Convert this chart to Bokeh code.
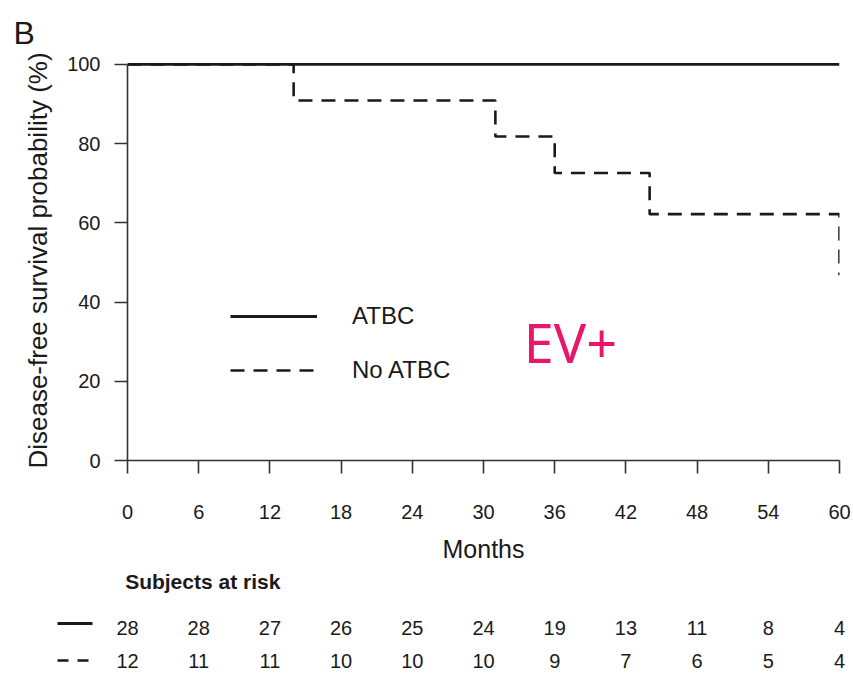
from bokeh.plotting import figure
from bokeh.models import Range1d, Legend, LegendItem, Label, FixedTicker
from bokeh.layouts import column
from bokeh.embed import file_html
from bokeh.resources import INLINE
from bokeh.core.properties import value

# ---- data ----
month_ticks = [0, 6, 12, 18, 24, 30, 36, 42, 48, 54, 60]
surv_ticks = [0, 20, 40, 60, 80, 100]
atbc_time = [0, 60]
atbc_surv = [100, 100]
noatbc_time = [0, 14, 31, 36, 44, 60]
noatbc_surv = [100, 90.9, 81.8, 72.6, 62.2, 46.8]
risk_atbc = [28, 28, 27, 26, 25, 24, 19, 13, 11, 8, 4]
risk_noatbc = [12, 11, 11, 10, 10, 10, 9, 7, 6, 5, 4]

SANS = "Liberation Sans"
INK = "#1a1a1a"

W = 853
LEFT, RIGHT = 127, 14
frame_w = W - LEFT - RIGHT
ppm = frame_w / 60.0

p = figure(width=W, height=570, x_range=Range1d(0, 60), y_range=Range1d(0, 101),
           output_backend="svg", toolbar_location=None,
           min_border_left=LEFT, min_border_right=RIGHT,
           min_border_top=60, min_border_bottom=110)
p.frame_align = False
p.outline_line_color = None
p.grid.visible = False
p.background_fill_color = "white"

p.title.text = "B"
p.title.align = "left"
p.title.offset = -114
p.title.standoff = 20
p.title.text_font = SANS
p.title.text_font_size = "32px"
p.title.text_font_style = "normal"
p.title.text_color = INK

dash = p.step(noatbc_time, noatbc_surv, mode="after", line_color=INK,
              line_width=2.6, line_dash="14 9")
solid = p.line(atbc_time, atbc_surv, line_color=INK, line_width=2.8)

for ax in (p.xaxis[0], p.yaxis[0]):
    ax.axis_line_color = "#333333"
    ax.axis_line_width = 1.6
    ax.major_tick_line_color = "#333333"
    ax.major_tick_line_width = 1.6
    ax.minor_tick_line_color = None
    ax.major_tick_in = 0
    ax.major_tick_out = 13
    ax.major_label_text_font = SANS
    ax.major_label_text_font_size = "20px"
    ax.major_label_text_color = INK
    ax.axis_label_text_font = SANS
    ax.axis_label_text_font_style = "normal"
    ax.axis_label_text_color = INK

p.xaxis.ticker = FixedTicker(ticks=month_ticks)
p.xaxis.bounds = (0, 60)
p.xaxis.major_label_standoff = 31
p.xaxis.axis_label = "Months"
p.xaxis.axis_label_text_font_size = "25px"
p.xaxis.axis_label_standoff = 13

p.yaxis.ticker = FixedTicker(ticks=surv_ticks)
p.yaxis.bounds = (0, 100)
p.yaxis.major_label_standoff = 14
p.yaxis.axis_label = "Disease-free survival probability (%)"
p.yaxis.axis_label_text_font_size = "26px"
p.yaxis.axis_label_standoff = 11

legend = Legend(items=[LegendItem(label="ATBC", renderers=[solid]),
                       LegendItem(label="No ATBC", renderers=[dash])],
                location=(103, 75), glyph_width=87, glyph_height=30,
                label_standoff=35, spacing=24, padding=0, margin=0,
                border_line_color=None, background_fill_alpha=0,
                label_text_font=SANS, label_text_font_size="24px",
                label_text_color=INK, label_height=30)
p.add_layout(legend)

p.add_layout(Label(x=33.4, y=30, text="EV+", text_font="Noto Sans",
                   text_font_size="54px", text_color="#E8176B",
                   text_baseline="alphabetic", text_align="left"))

# ---- risk table ----
r = figure(width=W, height=105,
           x_range=Range1d(-LEFT / ppm, 60 + RIGHT / ppm), y_range=Range1d(105, 0),
           output_backend="svg", toolbar_location=None,
           min_border_left=0, min_border_right=0, min_border_top=0, min_border_bottom=0,
           x_axis_location=None, y_axis_location=None)
r.frame_align = False
r.outline_line_color = None
r.grid.visible = False

ROW0, ROW1, ROW2 = 11, 57, 90
r.text(x=[-0.2], y=[ROW0], text=["Subjects at risk"], text_font=value(SANS),
       text_font_style="bold", text_font_size="21px", text_color=INK,
       text_align="left", text_baseline="middle")
r.text(x=month_ticks, y=[ROW1] * len(month_ticks), text=[str(v) for v in risk_atbc],
       text_font=value(SANS), text_font_size="20px", text_color=INK,
       text_align="center", text_baseline="middle")
r.text(x=month_ticks, y=[ROW2] * len(month_ticks), text=[str(v) for v in risk_noatbc],
       text_font=value(SANS), text_font_size="20px", text_color=INK,
       text_align="center", text_baseline="middle")
sx0, sx1 = (57 - LEFT) / ppm, (92 - LEFT) / ppm
r.segment(x0=[sx0], y0=[ROW1 - 4], x1=[sx1], y1=[ROW1 - 4], line_color=INK, line_width=2.8)
r.segment(x0=[sx0], y0=[ROW2], x1=[sx1], y1=[ROW2], line_color=INK, line_width=2.6,
          line_dash="11 9")

layout = column(p, r, spacing=0)
open("out.html", "w").write(file_html(layout, INLINE))
